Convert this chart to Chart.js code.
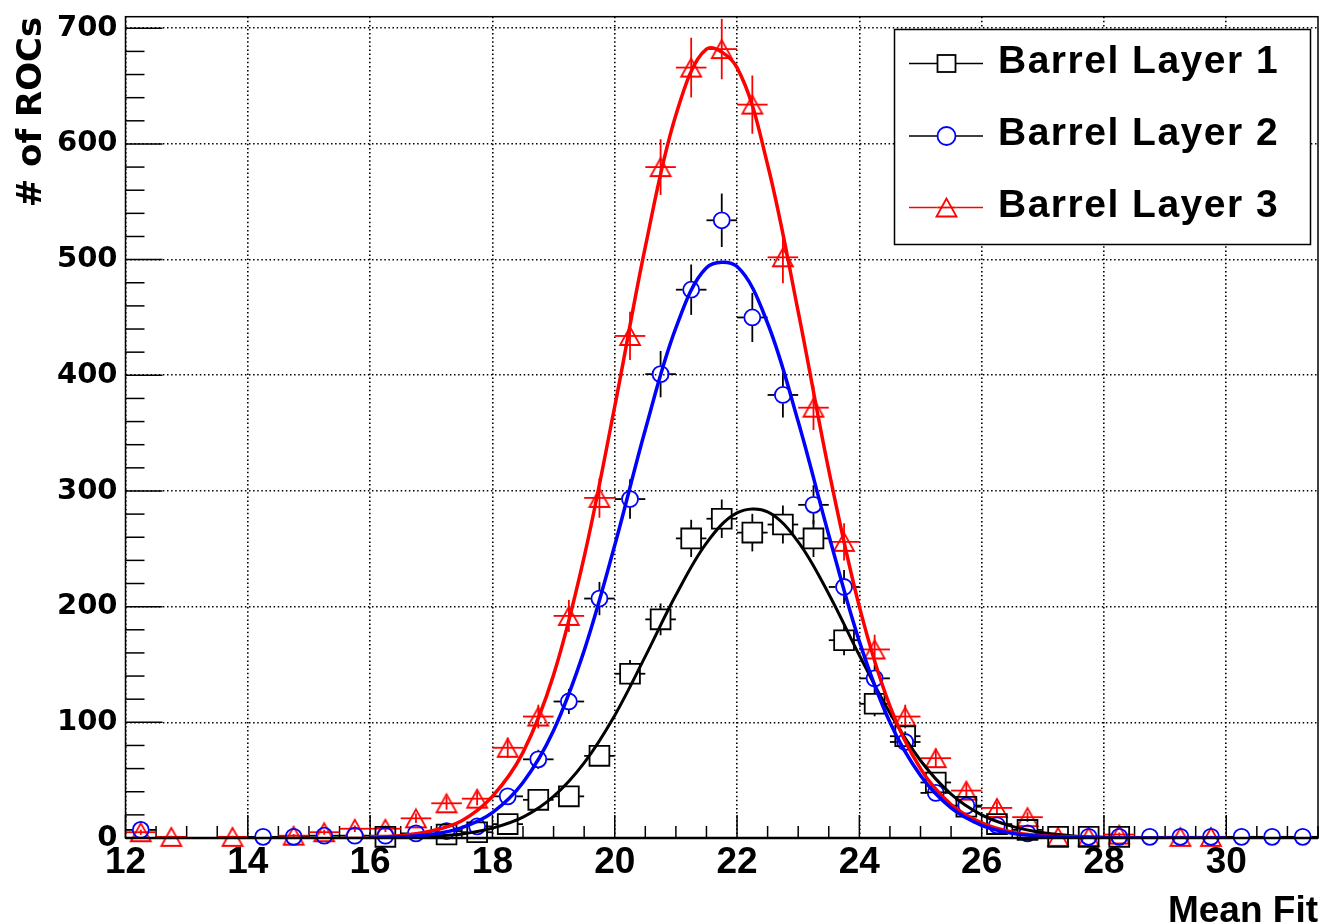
<!DOCTYPE html>
<html>
<head>
<meta charset="utf-8">
<title>Mean Fit per ROC</title>
<script src="https://cdn.jsdelivr.net/npm/chart.js@4.4.1/dist/chart.umd.min.js"></script>
<style>
  html, body { margin: 0; padding: 0; background: #fff; }
  #chart { display: block; }
</style>
</head>
<body>
<canvas id="chart" width="1323" height="922"></canvas>
<script>
// histogram bins are 0.5 wide, values are entries per bin (null = empty bin)
var binCenters = [12.25, 12.75, 13.25, 13.75, 14.25, 14.75, 15.25, 15.75, 16.25, 16.75,
                  17.25, 17.75, 18.25, 18.75, 19.25, 19.75, 20.25, 20.75, 21.25, 21.75,
                  22.25, 22.75, 23.25, 23.75, 24.25, 24.75, 25.25, 25.75, 26.25, 26.75,
                  27.25, 27.75, 28.25, 28.75, 29.25, 29.75, 30.25, 30.75, 31.25];
var layer1Counts = [null, null, null, null, null, null, null, null, 1, null,
                    3, 5, 12, 33, 36, 71, 142, 189, 259, 276,
                    264, 271, 259, 171, 116, 88, 48, 27, 12, 7,
                    1, 1, 1, null, null, null, null, null, null];
var layer2Counts = [7, null, null, null, 1, 1, 2, 2, 2, 4,
                    6, 10, 36, 68, 118, 207, 293, 401, 474, 534,
                    450, 383, 288, 217, 138, 83, 39, 28, 11, 4,
                    null, 1, 1, 1, 1, 1, 1, 1, 1];
var layer3Counts = [5, 1, null, 1, null, 2, 5, 8, 8, 17,
                    30, 34, 78, 105, 192, 294, 434, 580, 666, 682,
                    634, 502, 372, 256, 163, 105, 69, 41, 26, 18,
                    1, 1, 3, null, 1, 1, null, null, null];

// gaussian fit curves, sampled over the fit range
var fitX = [16, 16.5, 17, 17.5, 18, 18.5, 19, 19.5, 20, 20.5, 21, 21.5, 22, 22.5, 23,
            23.5, 24, 24.5, 25, 25.5, 26, 26.5, 27, 27.5, 28, 28.5, 29, 29.5, 30];
var layer1Fit = [0, 0.5, 1.5, 3.5, 8.5, 18, 36, 65, 106, 157, 210, 255, 281, 282, 256,
                 211, 158, 108, 67, 38, 20, 10, 4.5, 1.8, 0.6, 0.2, 0, 0, 0];
var layer2Fit = [0, 1, 3, 9, 22, 48, 93, 162, 253, 353, 441, 493, 494, 445, 360,
                 262, 170, 100, 54, 26, 11, 4, 1.5, 0.5, 0, 0, 0, 0, 0];
var layer3Fit = [1, 2, 6, 15, 36, 74, 141, 243, 373, 511, 625, 682, 666, 582, 455,
                 318, 200, 114, 60, 29, 13, 5, 2, 1, 0, 0, 0, 0, 0];

var seriesNames = ['Barrel Layer 1', 'Barrel Layer 2', 'Barrel Layer 3'];
var xTicks = [12, 14, 16, 18, 20, 22, 24, 26, 28, 30];
var yTicks = [0, 100, 200, 300, 400, 500, 600, 700];
var halfBin = 0.25;

function toPoints(xs, ys) {
    var pts = [];
    for (var i = 0; i < xs.length; i++) {
        if (ys[i] !== null) pts.push({ x: xs[i], y: ys[i] });
    }
    return pts;
}

// open triangle marker (ROOT style 26)
function trianglePath(ctx, x, y) {
    ctx.beginPath();
    ctx.moveTo(x, y - 9);
    ctx.lineTo(x - 10, y + 9);
    ctx.lineTo(x + 10, y + 9);
    ctx.closePath();
}
var triangleImg = document.createElement('canvas');
triangleImg.width = 24;
triangleImg.height = 22;
(function () {
    var c = triangleImg.getContext('2d');
    c.strokeStyle = '#ff0000';
    c.lineWidth = 1.8;
    trianglePath(c, 12, 11);
    c.stroke();
})();

function line(ctx, x1, y1, x2, y2) {
    ctx.beginPath();
    ctx.moveTo(x1, y1);
    ctx.lineTo(x2, y2);
    ctx.stroke();
}

// inward ticks, error bars, frame and legend box
var rootStyle = {
    id: 'rootStyle',
    beforeDatasetsDraw: function (chart) {
        var ctx = chart.ctx, xs = chart.scales.x, ys = chart.scales.y, area = chart.chartArea;
        ctx.save();
        ctx.strokeStyle = '#000';
        ctx.lineWidth = 1.5;
        for (var v = 12; v <= 31.5; v += 0.5) {
            var px = xs.getPixelForValue(v);
            line(ctx, px, area.bottom, px, area.bottom - (v % 2 === 0 ? 23 : 12));
        }
        for (var w = 0; w <= 700; w += 20) {
            var py = ys.getPixelForValue(w);
            line(ctx, area.left, py, area.left + (w % 100 === 0 ? 37 : 19), py);
        }

        // Poisson error bars, left open where the marker sits
        chart.data.datasets.forEach(function (ds, i) {
            if (!ds.errColor) return;
            var meta = chart.getDatasetMeta(i);
            ctx.strokeStyle = ds.errColor;
            ctx.lineWidth = 1.8;
            meta.data.forEach(function (el, j) {
                var p = ds.data[j];
                var err = Math.sqrt(p.y);
                var top = ys.getPixelForValue(p.y + err);
                var bot = ys.getPixelForValue(Math.max(p.y - err, 0));
                var lft = xs.getPixelForValue(p.x - halfBin);
                var rgt = xs.getPixelForValue(p.x + halfBin);
                var g = ds.gap;
                if (el.y - top > g) line(ctx, el.x, el.y - g, el.x, top);
                if (bot - el.y > g) line(ctx, el.x, el.y + g, el.x, bot);
                line(ctx, lft, el.y, el.x - g, el.y);
                line(ctx, el.x + g, el.y, rgt, el.y);
            });
        });
        ctx.restore();
    },
    afterDraw: function (chart) {
        var ctx = chart.ctx, area = chart.chartArea;
        ctx.save();
        ctx.strokeStyle = '#000';
        ctx.lineWidth = 1.5;
        ctx.strokeRect(area.left, area.top, area.right - area.left, area.bottom - area.top);
        ctx.lineWidth = 2.5;
        line(ctx, area.left, area.bottom, area.right, area.bottom);

        // legend
        var bx = 894.5, by = 29.5, bw = 416, bh = 215;
        ctx.fillStyle = '#fff';
        ctx.fillRect(bx, by, bw, bh);
        ctx.lineWidth = 1.5;
        ctx.strokeStyle = '#000';
        ctx.strokeRect(bx, by, bw, bh);
        var rows = [63.5, 136, 207.5];
        var lineColors = ['#000', '#000', '#ff0000'];
        ctx.font = 'bold 39px "Liberation Sans", Arial, sans-serif';
        ctx.textBaseline = 'middle';
        ctx.letterSpacing = '1.5px';
        for (var i = 0; i < seriesNames.length; i++) {
            var ry = rows[i], mx = 946.5;
            ctx.strokeStyle = lineColors[i];
            ctx.lineWidth = 1.5;
            line(ctx, 909, ry, mx - 9, ry);
            line(ctx, mx + 9, ry, 983, ry);
            ctx.lineWidth = 1.8;
            if (i === 0) {
                ctx.strokeStyle = '#000';
                ctx.strokeRect(mx - 9, ry - 8.5, 18, 17);
            } else if (i === 1) {
                ctx.strokeStyle = '#0000ff';
                ctx.beginPath();
                ctx.arc(mx, ry, 9, 0, Math.PI * 2);
                ctx.stroke();
            } else {
                ctx.strokeStyle = '#ff0000';
                line(ctx, mx - 9, ry, mx + 9, ry);
                trianglePath(ctx, mx, ry);
                ctx.stroke();
            }
            ctx.fillStyle = '#000';
            ctx.fillText(seriesNames[i], 998, ry - 1.5);
        }
        ctx.restore();
    }
};

function curve(data, color, width) {
    return {
        type: 'line',
        data: toPoints(fitX, data),
        borderColor: color,
        borderWidth: width,
        pointRadius: 0,
        tension: 0.35,
        fill: false
    };
}

function markers(data, style, radius, color, errColor, gap) {
    return {
        type: 'scatter',
        data: toPoints(binCenters, data),
        pointStyle: style,
        pointRadius: radius,
        borderColor: color,
        backgroundColor: 'rgba(0,0,0,0)',
        borderWidth: 1.8,
        clip: false,
        errColor: errColor,
        gap: gap
    };
}

new Chart(document.getElementById('chart'), {
    data: {
        datasets: [
            curve(layer2Fit, '#0000ff', 3.5),
            curve(layer3Fit, '#ff0000', 3.5),
            curve(layer1Fit, '#000000', 3),
            markers(layer1Counts, 'rect', 14, '#000000', '#000000', 10),
            markers(layer2Counts, 'circle', 8, '#0000ff', '#000000', 8.5),
            markers(layer3Counts, triangleImg, 10, '#ff0000', '#ff0000', 0)
        ]
    },
    options: {
        responsive: false,
        devicePixelRatio: 1,
        animation: false,
        events: [],
        layout: { autoPadding: false, padding: { left: 0, right: 5, top: 16.7, bottom: 0 } },
        plugins: { legend: { display: false }, tooltip: { enabled: false } },
        scales: {
            x: {
                type: 'linear',
                min: 12,
                max: 31.5,
                afterBuildTicks: function (scale) {
                    scale.ticks = xTicks.map(function (v) { return { value: v }; });
                },
                afterFit: function (scale) {
                    scale.height = 84;
                    scale.paddingLeft = 0;
                    scale.paddingRight = 0;
                },
                grid: { color: '#000', lineWidth: 1.6, drawTicks: false },
                border: { display: false, dash: [1.5, 2.6] },
                ticks: {
                    autoSkip: false,
                    maxRotation: 0,
                    padding: 3,
                    color: '#000',
                    font: { family: '"Liberation Sans", Arial, sans-serif', size: 37, weight: 'bold' },
                    callback: function (v) { return String(v); }
                },
                title: {
                    display: true,
                    text: 'Mean Fit',
                    align: 'end',
                    color: '#000',
                    font: { family: '"Liberation Sans", Arial, sans-serif', size: 37, weight: 'bold', lineHeight: 1 },
                    padding: { top: 0, bottom: -8 }
                }
            },
            y: {
                type: 'linear',
                min: 0,
                max: 710,
                afterBuildTicks: function (scale) {
                    scale.ticks = yTicks.map(function (v) { return { value: v }; });
                },
                afterFit: function (scale) {
                    scale.width = 125.5;
                    scale.paddingTop = 0;
                    scale.paddingBottom = 0;
                },
                grid: { color: '#000', lineWidth: 1.6, drawTicks: false },
                border: { display: false, dash: [1.5, 2.6] },
                ticks: {
                    padding: 8,
                    color: '#000',
                    font: { family: '"DejaVu Sans", sans-serif', size: 29, weight: 'bold' },
                    callback: function (v) { return String(v); }
                },
                title: {
                    display: true,
                    text: '# of ROCs',
                    align: 'end',
                    color: '#000',
                    font: { family: '"DejaVu Sans", sans-serif', size: 34, weight: 'bold', lineHeight: 1 },
                    padding: { top: 15.5, bottom: 0 }
                }
            }
        }
    },
    plugins: [rootStyle]
});
</script>
</body>
</html>
